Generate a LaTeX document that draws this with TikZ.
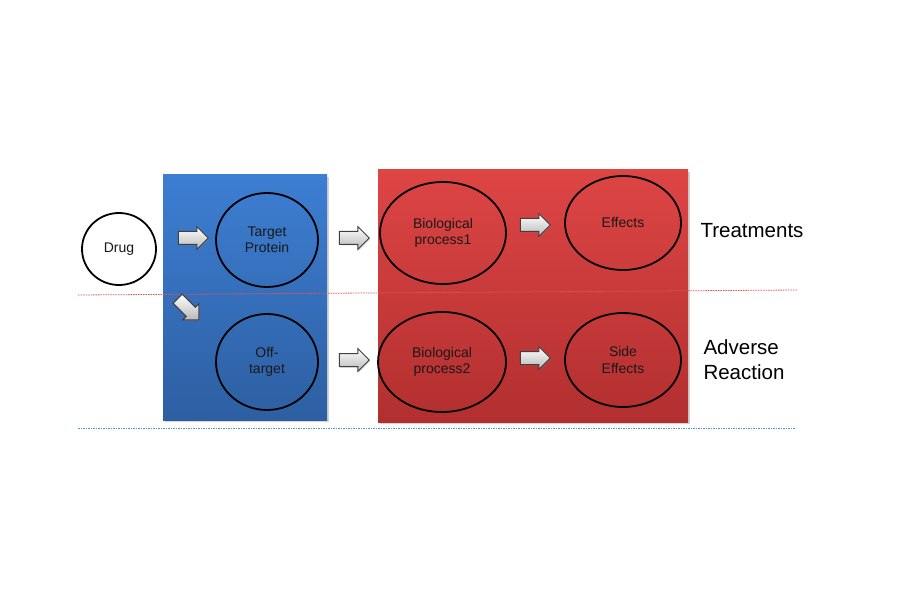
\documentclass[tikz,border=0pt]{standalone}
\usepackage{fontspec}
\setmainfont{Liberation Sans}
\usetikzlibrary{positioning,shapes.geometric,shapes.arrows,shadows}

\definecolor{panelblue}{HTML}{3D7ED2}
\definecolor{panelbluedark}{HTML}{2D5FA2}
\definecolor{panelred}{HTML}{DE4545}
\definecolor{panelreddark}{HTML}{B22F2F}
\definecolor{splitred}{HTML}{E05555}
\definecolor{splitblue}{HTML}{5C92D4}

\tikzset{
    panel/.style={draw=none, minimum width=#1, drop shadow={shadow xshift=2pt, shadow yshift=-2pt, opacity=0.35}},
    bubble/.style={ellipse, draw=black, line width=1.8pt, align=center, inner sep=0pt,
        text=black!90, font=\fontsize{14}{16.5}\selectfont},
    blockarrow/.style={single arrow, draw=black!75, line width=1pt, top color=white, bottom color=black!28,
        inner sep=6pt, single arrow head extend=5pt, minimum height=30pt,
        drop shadow={shadow xshift=1pt, shadow yshift=-1pt, opacity=0.3}},
    sidelabel/.style={align=left, font=\fontsize{20.5}{25}\selectfont},
    splitline/.style={line width=0.8pt, dash pattern=on 1.5pt off 1pt}
}

\begin{document}
\begin{tikzpicture}[x=1pt, y=-1pt]
    \useasboundingbox (0,0) rectangle (901,601);

    % Panels
    \node[panel=164pt, minimum height=245pt, top color=panelblue, bottom color=panelbluedark] (bluepanel) at (245,297.5) {};
    \node[panel=310pt, minimum height=252pt, top color=panelred, bottom color=panelreddark] (redpanel) at (533,296) {};

    % Split lines
    \draw[splitline, splitred] (78,295) -- (798,290);
    \draw[splitline, splitblue] (78,428) -- (795,428);

    % Drug and targets
    \node[bubble, fill=white, minimum width=74pt, minimum height=72pt] (drug) at (119,249) {Drug};
    \node[bubble, minimum width=102pt, minimum height=94pt] (target) at (267,240) {Target\\Protein};
    \node[bubble, minimum width=102pt, minimum height=96pt] (offtarget) at (267,362) {Off-\\target};

    % Processes and outcomes
    \node[bubble, minimum width=126pt, minimum height=102pt] (bio1) at (443,233) {Biological\\process1};
    \node[bubble, minimum width=116pt, minimum height=94pt] (effects) at (623,223) {Effects};
    \node[bubble, minimum width=128pt, minimum height=100pt] (bio2) at (442,362) {Biological\\process2};
    \node[bubble, minimum width=116pt, minimum height=94pt] (sideeff) at (623,360) {Side\\Effects};

    % Block arrows
    \node[blockarrow] (drugtotarget) at (190,238) {};
    \node[blockarrow, rotate=-45] (drugtooff) at (186,307) {};
    \node[blockarrow] (targettobio) at (351,238) {};
    \node[blockarrow] (offtobio) at (351,360) {};
    \node[blockarrow] (biotoeff) at (532,225) {};
    \node[blockarrow] (biotoside) at (532,358) {};

    % Row labels
    \node[sidelabel, anchor=west] (treat) at (697,231) {Treatments};
    \node[sidelabel, anchor=west] (adverse) at (700,360) {Adverse\\Reaction};
\end{tikzpicture}
\end{document}
